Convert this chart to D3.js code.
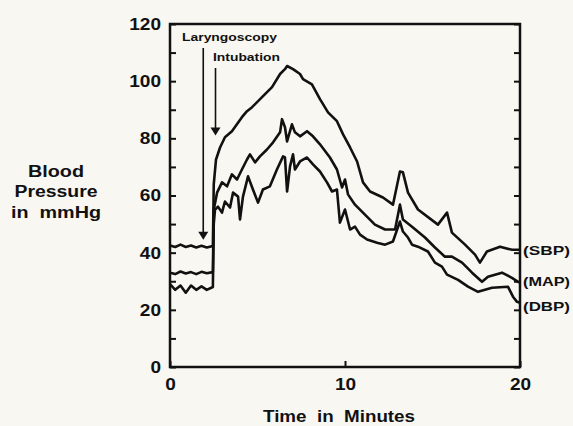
<!DOCTYPE html>
<html>
<head>
<meta charset="utf-8">
<script src="https://cdn.jsdelivr.net/npm/d3@7"></script>
<style>
  body { margin: 0; background: #f8f7f2; }
  text { font-family: "Liberation Sans", Arial, sans-serif; font-weight: bold; fill: #111; white-space: pre; }
</style>
</head>
<body>
<svg id="chart" width="573" height="426"></svg>
<script>
// values: [minutes, mmHg]
const sbp = [[0,42.5],[0.3,42],[0.6,42.8],[0.9,42],[1.2,42.5],[1.5,41.8],[1.8,42.4],[2.1,41.8],[2.45,42.3],
  [2.5,63.9],[2.63,72.6],[2.86,76.8],[3.14,80.4],[3.54,82.5],[4.11,87.4],[4.4,89.5],[4.69,90.9],[5.26,94.4],
  [5.83,97.9],[6.29,102.5],[6.57,104.2],[6.69,105.3],[7.03,104.2],[7.43,102.5],[7.6,100.7],[8.11,98.9],
  [8.57,93.7],[9.03,89.1],[9.54,86],[9.89,81.4],[10.29,76.8],[10.69,71.9],[11.03,64.6],[11.43,61.4],
  [12.17,59.3],[12.74,56.8],[13.14,68.4],[13.31,68.1],[13.6,61],[14.17,55.1],[15.31,49.8],[15.83,54],
  [16.11,47],[16.86,42.8],[17.43,39.3],[17.71,36.5],[18.11,40.4],[18.86,42.1],[19.54,41],[20,41]];

const map = [[0,33],[0.3,32.5],[0.6,33.4],[0.9,32.7],[1.2,33.2],[1.5,32.5],[1.8,33.3],[2.1,32.8],[2.45,33.2],
  [2.5,55],[2.69,61],[2.97,64.6],[3.26,63.2],[3.54,67.4],[3.83,65.6],[4.11,69.1],[4.4,72.6],[4.57,74.4],
  [4.86,71.6],[5.14,73.7],[5.54,76.1],[5.89,78.6],[6.29,82.1],[6.4,86.7],[6.57,83.9],[6.69,78.9],[6.97,84.9],
  [7.14,82.1],[7.43,80.7],[7.83,82.5],[8.17,80.7],[8.57,77.9],[9.14,73.3],[9.54,69.1],[9.83,62.8],[10,65.6],
  [10.17,60.4],[10.57,56.8],[11.14,53.3],[11.71,49.8],[12.29,48.1],[12.86,48.1],[13.14,56.8],[13.31,51.6],
  [13.83,49.1],[14.57,45.3],[15.14,41.8],[15.71,38.6],[16.11,38.6],[16.69,36.5],[17.26,33],[17.83,29.8],
  [18.17,31.6],[18.97,33],[19.54,31.2],[19.89,29.8],[20,29.5]];

const dbp = [[0,29],[0.3,27],[0.6,28.5],[0.9,26],[1.2,28.5],[1.5,27],[1.8,28.2],[2.1,27],[2.45,28],
  [2.5,50],[2.57,55],[2.74,56.1],[2.97,54],[3.14,57.9],[3.43,55.8],[3.6,61],[3.89,59.6],[4,51.6],[4.17,59.6],
  [4.46,66.7],[4.74,62.1],[5.03,57.5],[5.31,62.1],[5.71,63.2],[6.11,69.1],[6.46,73.7],[6.57,73.3],[6.69,61.4],
  [6.86,70.2],[7.03,74.4],[7.14,69.1],[7.43,71.9],[7.83,73.3],[8.17,70.9],[8.57,68.4],[8.97,64.6],[9.26,61.4],
  [9.54,62.1],[9.71,50.5],[10,55.1],[10.29,48.1],[10.57,49.1],[10.86,46.3],[11.26,44.6],[11.83,43.5],
  [12.29,42.8],[12.74,43.9],[13.14,50.9],[13.31,47.4],[13.6,45.3],[13.83,42.8],[14.17,42.1],[14.74,40.4],
  [15.14,36.5],[15.54,35.1],[15.83,32.3],[16.46,30.5],[17.03,28.1],[17.6,26.3],[18.4,27.7],[19.31,28.1],
  [19.6,24.6],[19.83,22.8],[20,22.5]];

const seriesNames = ["(SBP)", "(MAP)", "(DBP)"];
const xTicks = [0, 10, 20];
const yTicks = [0, 10, 20, 30, 40, 50, 60, 70, 80, 90, 100, 110, 120];
// events: [label, minute, mmHg the arrow points to]
const events = [["Laryngoscopy", 1.9, 44.5], ["Intubation", 2.6, 81]];

let svg = d3.select("#chart");
let x = d3.scaleLinear().domain([0, 20]).range([170, 520]);
let y = d3.scaleLinear().domain([0, 120]).range([367, 24]);

svg.append("rect").attr("width", 573).attr("height", 426).attr("fill", "#f8f7f2");

// frame
svg.append("rect")
  .attr("x", x(0)).attr("y", y(120))
  .attr("width", x(20) - x(0)).attr("height", y(0) - y(120))
  .attr("fill", "none").attr("stroke", "#111").attr("stroke-width", 2.5);

let yAxis = svg.append("g").attr("transform", "translate(" + x(0) + ",0)")
  .call(d3.axisLeft(y).tickValues(yTicks).tickSize(-6).tickPadding(9)
    .tickFormat(d => d % 20 === 0 ? d : ""));
yAxis.select(".domain").remove();
yAxis.selectAll("line").attr("stroke", "#111").attr("stroke-width", 2);
yAxis.selectAll("text").attr("font-size", 17).attr("fill", "#111")
  .attr("textLength", d => d % 20 === 0 ? String(d).length * 10.6 : null)
  .attr("lengthAdjust", "spacingAndGlyphs");

let rAxis = svg.append("g").attr("transform", "translate(" + x(20) + ",0)")
  .call(d3.axisRight(y).tickValues(yTicks).tickSize(-6).tickFormat(""));
rAxis.select(".domain").remove();
rAxis.selectAll("line").attr("stroke", "#111").attr("stroke-width", 2);

let xAxis = svg.append("g").attr("transform", "translate(0," + y(0) + ")")
  .call(d3.axisBottom(x).tickValues(xTicks).tickSize(-6).tickPadding(11).tickFormat(d => d));
xAxis.select(".domain").remove();
xAxis.selectAll("line").attr("stroke", "#111").attr("stroke-width", 2);
xAxis.selectAll("text").attr("font-size", 17).attr("fill", "#111")
  .attr("textLength", d => String(d).length * 10.6)
  .attr("lengthAdjust", "spacingAndGlyphs");

// lines
let line = d3.line().x(d => x(d[0])).y(d => y(d[1]));
[sbp, map, dbp].forEach(s => {
  svg.append("path").datum(s)
    .attr("d", line)
    .attr("fill", "none").attr("stroke", "#111")
    .attr("stroke-width", 2.6).attr("stroke-linejoin", "round");
});

// series labels at right
let ends = [sbp, map, dbp].map(s => s[s.length - 1][1]);
let labelY = [ends[0], ends[1] + 0.5, ends[2] - 1];
seriesNames.forEach((n, i) => {
  svg.append("text").attr("x", x(20) + 3).attr("y", y(labelY[i]) + 5)
    .attr("font-size", 13).attr("textLength", 47).attr("lengthAdjust", "spacingAndGlyphs")
    .text(n);
});

// event arrows
let textY = [41, 61];
let textX = [182, 213];
let textW = [95, 67];
let arrowTop = [48, 68];
events.forEach((e, i) => {
  let ax = x(e[1]), tip = y(e[2]);
  svg.append("text").attr("x", textX[i]).attr("y", textY[i])
    .attr("font-size", 11.5).attr("textLength", textW[i]).attr("lengthAdjust", "spacingAndGlyphs")
    .text(e[0]);
  svg.append("line").attr("x1", ax).attr("x2", ax).attr("y1", arrowTop[i]).attr("y2", tip - 6)
    .attr("stroke", "#111").attr("stroke-width", 1.6);
  svg.append("path")
    .attr("d", "M" + (ax - 5) + "," + (tip - 8) + "L" + (ax + 5) + "," + (tip - 8) + "L" + ax + "," + tip + "Z")
    .attr("fill", "#111");
});

// axis titles
let yTitle = [["Blood", 177, 56], ["Pressure", 197, 83], ["in  mmHg", 218, 90]];
yTitle.forEach(t => {
  svg.append("text").attr("x", 56).attr("y", t[1]).attr("text-anchor", "middle")
    .attr("font-size", 16).attr("textLength", t[2]).attr("lengthAdjust", "spacingAndGlyphs")
    .text(t[0]);
});
svg.append("text").attr("x", 339).attr("y", 422).attr("text-anchor", "middle")
  .attr("font-size", 16).attr("textLength", 152).attr("lengthAdjust", "spacingAndGlyphs")
  .text("Time  in  Minutes");
</script>
</body>
</html>
